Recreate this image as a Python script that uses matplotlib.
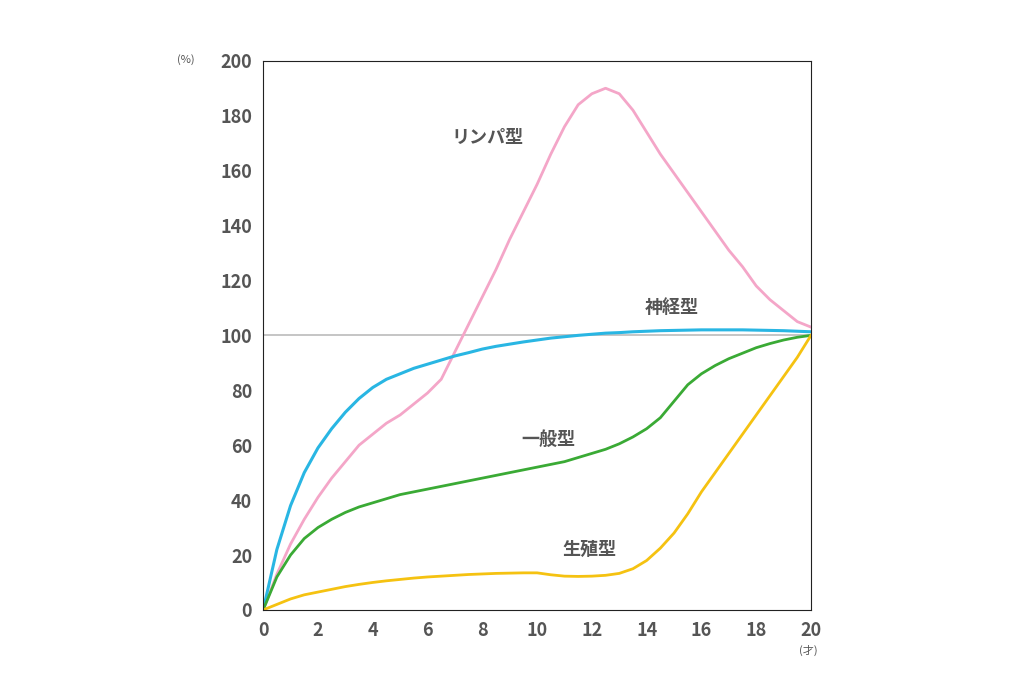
import matplotlib.pyplot as plt

plt.rcParams['font.family'] = 'Noto Sans CJK JP'

ages = [i / 2 for i in range(41)]
lymph = [0, 13, 24, 33, 41, 48, 54, 60, 64, 68, 71, 75, 79, 84, 94, 104, 114, 124, 135, 145, 155, 166, 176, 184,
         188, 190, 188, 182, 174, 166, 159, 152, 145, 138, 131, 125, 118, 113, 109, 105, 103]
neural = [0, 22, 38, 50, 59, 66, 72, 77, 81, 84, 86, 88, 89.5, 91, 92.5, 93.7, 95, 96, 96.8, 97.6, 98.3, 99, 99.5,
          100, 100.4, 100.8, 101, 101.3, 101.5, 101.7, 101.8, 101.9, 102, 102, 102, 102, 101.9, 101.8, 101.7, 101.5, 101.3]
general = [0, 12, 20, 26, 30, 33, 35.5, 37.5, 39, 40.5, 42, 43, 44, 45, 46, 47, 48, 49, 50, 51, 52, 53, 54, 55.5,
           57, 58.5, 60.5, 63, 66, 70, 76, 82, 86, 89, 91.5, 93.5, 95.5, 97, 98.3, 99.3, 100]
repro = [0, 2, 4, 5.5, 6.5, 7.5, 8.5, 9.3, 10, 10.6, 11.1, 11.6, 12, 12.3, 12.6, 12.9, 13.1, 13.3, 13.4, 13.5, 13.5,
         12.8, 12.3, 12.2, 12.3, 12.6, 13.3, 15, 18, 22.5, 28, 35, 43, 50, 57, 64, 71, 78, 85, 92, 100]

labels = ['リンパ型', '神経型', '一般型', '生殖型']
label_pos = [(8.2, 172), (14.9, 110), (10.4, 62), (11.9, 22)]

fig = plt.figure(figsize=(10.24, 6.83), dpi=100)
ax = fig.add_axes([0.257, 0.107, 0.535, 0.804])

ax.axhline(100, color='#bbbbbb', lw=1.2)
ax.plot(ages, lymph, color='#f4a6c8', lw=2)
ax.plot(ages, neural, color='#29b6e3', lw=2.2)
ax.plot(ages, general, color='#3aaa35', lw=2)
ax.plot(ages, repro, color='#f5c211', lw=2)

for text, (x, y) in zip(labels, label_pos):
    ax.text(x, y, text, fontsize=13, fontweight='bold', color='#555555', ha='center', va='center')

ax.set_xlim(0, 20)
ax.set_ylim(0, 200)
ax.set_xticks(range(0, 21, 2))
ax.set_yticks(range(0, 201, 20))
ax.tick_params(length=0, labelsize=13, labelcolor='#555555', pad=8)
for lab in ax.get_xticklabels() + ax.get_yticklabels():
    lab.set_fontweight('bold')
for s in ax.spines.values():
    s.set_color('#222222')

fig.text(186 / 1024, 1 - 60 / 683, '(%)', fontsize=8, color='#555555', ha='center', va='center')
fig.text(808 / 1024, 1 - 650 / 683, '(才)', fontsize=8, color='#555555', ha='center', va='center')

fig.savefig('out.png', dpi=100)
